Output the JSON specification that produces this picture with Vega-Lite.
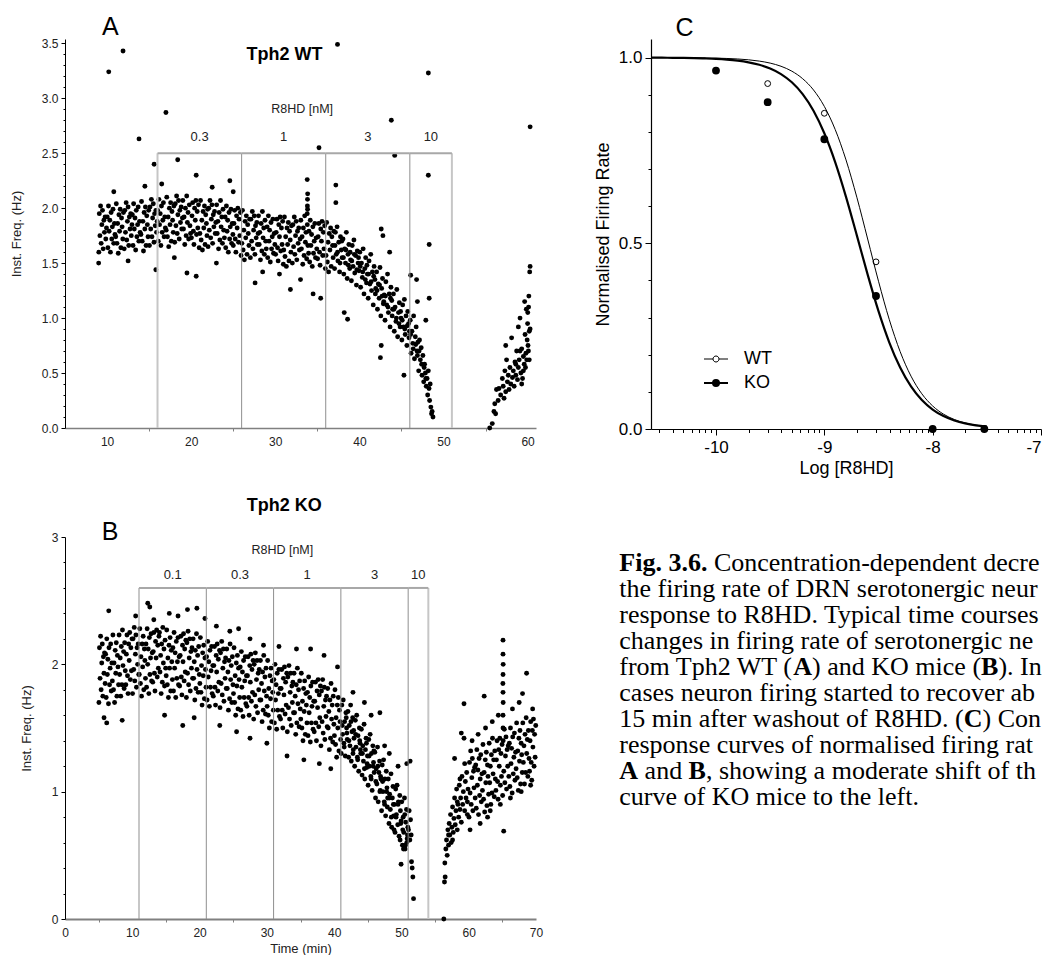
{
"$schema": "https://vega.github.io/schema/vega-lite/v6.json",
"background": "white",
"padding": {"left": 10, "top": 14, "right": 0, "bottom": 0},
"config": {"view": {"stroke": null}, "axis": {"grid": false, "labelFont": "Liberation Sans", "titleFont": "Liberation Sans", "labelOverlap": false, "labelFlush": false}, "text": {"font": "Liberation Sans"}},
"datasets": {
"segA": [{"t0":16,"t1":26,"mid":21,"conc":"0.3"},{"t0":26,"t1":36,"mid":31,"conc":"1"},{"t0":36,"t1":46,"mid":41,"conc":"3"},{"t0":46,"t1":51,"mid":48.5,"conc":"10"}],
"segB": [{"t0":11,"t1":21,"mid":16,"conc":"0.1"},{"t0":21,"t1":31,"mid":26,"conc":"0.3"},{"t0":31,"t1":41,"mid":36,"conc":"1"},{"t0":41,"t1":51,"mid":46,"conc":"3"},{"t0":51,"t1":54,"mid":52.5,"conc":"10"}],
"conc": [{"g":"WT","x":-9.523,"y":0.93},{"g":"WT","x":-9,"y":0.85},{"g":"WT","x":-8.523,"y":0.45},{"g":"WT","x":-8,"y":0},{"g":"WT","x":-7.523,"y":0},{"g":"KO","x":-10,"y":0.965},{"g":"KO","x":-9.523,"y":0.88},{"g":"KO","x":-9,"y":0.78},{"g":"KO","x":-8.523,"y":0.358},{"g":"KO","x":-8,"y":0},{"g":"KO","x":-7.523,"y":0}],
"fit": [
{"g":"WT","x":-10.6,"y":0.9999},{"g":"WT","x":-10.5,"y":0.9998},{"g":"WT","x":-10.4,"y":0.9998},{"g":"WT","x":-10.3,"y":0.9996},{"g":"WT","x":-10.2,"y":0.9994},{"g":"WT","x":-10.1,"y":0.999},{"g":"WT","x":-10,"y":0.9985},{"g":"WT","x":-9.9,"y":0.9976},{"g":"WT","x":-9.8,"y":0.9962},{"g":"WT","x":-9.7,"y":0.994},{"g":"WT","x":-9.6,"y":0.9905},{"g":"WT","x":-9.5,"y":0.9851},{"g":"WT","x":-9.4,"y":0.9766},{"g":"WT","x":-9.3,"y":0.9634},{"g":"WT","x":-9.2,"y":0.9431},{"g":"WT","x":-9.1,"y":0.9128},{"g":"WT","x":-9,"y":0.8685},{"g":"WT","x":-8.9,"y":0.8065},{"g":"WT","x":-8.8,"y":0.7245},{"g":"WT","x":-8.7,"y":0.624},{"g":"WT","x":-8.6,"y":0.5115},{"g":"WT","x":-8.5,"y":0.3978},{"g":"WT","x":-8.4,"y":0.2942},{"g":"WT","x":-8.3,"y":0.2082},{"g":"WT","x":-8.2,"y":0.1423},{"g":"WT","x":-8.1,"y":0.0948},{"g":"WT","x":-8,"y":0.062},{"g":"WT","x":-7.9,"y":0.04},{"g":"WT","x":-7.8,"y":0.0256},{"g":"WT","x":-7.7,"y":0.0163},{"g":"WT","x":-7.6,"y":0.0104},{"g":"WT","x":-7.5,"y":0.0066},
{"g":"KO","x":-10.6,"y":0.9997},{"g":"KO","x":-10.5,"y":0.9996},{"g":"KO","x":-10.4,"y":0.9993},{"g":"KO","x":-10.3,"y":0.999},{"g":"KO","x":-10.2,"y":0.9985},{"g":"KO","x":-10.1,"y":0.9976},{"g":"KO","x":-10,"y":0.9964},{"g":"KO","x":-9.9,"y":0.9945},{"g":"KO","x":-9.8,"y":0.9916},{"g":"KO","x":-9.7,"y":0.9872},{"g":"KO","x":-9.6,"y":0.9805},{"g":"KO","x":-9.5,"y":0.9705},{"g":"KO","x":-9.4,"y":0.9555},{"g":"KO","x":-9.3,"y":0.9334},{"g":"KO","x":-9.2,"y":0.9016},{"g":"KO","x":-9.1,"y":0.8568},{"g":"KO","x":-9,"y":0.7962},{"g":"KO","x":-8.9,"y":0.7186},{"g":"KO","x":-8.8,"y":0.6251},{"g":"KO","x":-8.7,"y":0.5213},{"g":"KO","x":-8.6,"y":0.4156},{"g":"KO","x":-8.5,"y":0.3172},{"g":"KO","x":-8.4,"y":0.2328},{"g":"KO","x":-8.3,"y":0.1654},{"g":"KO","x":-8.2,"y":0.1146},{"g":"KO","x":-8.1,"y":0.0779},{"g":"KO","x":-8,"y":0.0523},{"g":"KO","x":-7.9,"y":0.0348},{"g":"KO","x":-7.8,"y":0.023},{"g":"KO","x":-7.7,"y":0.0151},{"g":"KO","x":-7.6,"y":0.0099},{"g":"KO","x":-7.5,"y":0.0065}],
"wt": [
{"t":9.02,"f":1.6},{"t":9.08,"f":1.95},{"t":9.15,"f":1.75},{"t":9.23,"f":2.02},{"t":9.3,"f":1.68},{"t":9.38,"f":1.85},{"t":9.46,"f":1.98},{"t":9.54,"f":1.63},{"t":9.62,"f":1.89},{"t":9.69,"f":1.78},{"t":9.77,"f":1.92},{"t":9.85,"f":1.72},{"t":9.93,"f":1.82},
{"t":10.02,"f":1.92},{"t":10.1,"f":1.64},{"t":10.17,"f":2.02},{"t":10.25,"f":1.79},{"t":10.33,"f":1.89},{"t":10.4,"f":1.6},{"t":10.48,"f":1.96},{"t":10.56,"f":1.72},{"t":10.63,"f":1.83},{"t":10.71,"f":1.99},{"t":10.79,"f":1.68},{"t":10.87,"f":1.86},{"t":10.94,"f":1.76},
{"t":11.03,"f":1.74},{"t":11.1,"f":2.04},{"t":11.18,"f":1.68},{"t":11.26,"f":1.86},{"t":11.33,"f":1.59},{"t":11.41,"f":1.94},{"t":11.49,"f":1.79},{"t":11.56,"f":1.99},{"t":11.64,"f":1.64},{"t":11.72,"f":1.91},{"t":11.79,"f":1.83},{"t":11.87,"f":1.72},{"t":11.95,"f":1.96},
{"t":12.04,"f":1.63},{"t":12.11,"f":1.98},{"t":12.19,"f":1.78},{"t":12.27,"f":2.05},{"t":12.34,"f":1.71},{"t":12.42,"f":1.88},{"t":12.5,"f":2.01},{"t":12.58,"f":1.66},{"t":12.65,"f":1.92},{"t":12.73,"f":1.81},{"t":12.81,"f":1.95},{"t":12.88,"f":1.75},{"t":12.96,"f":1.85},
{"t":13.01,"f":1.94},{"t":13.09,"f":1.66},{"t":13.16,"f":2.04},{"t":13.24,"f":1.81},{"t":13.32,"f":1.91},{"t":13.4,"f":1.62},{"t":13.47,"f":1.98},{"t":13.55,"f":1.74},{"t":13.63,"f":1.85},{"t":13.7,"f":2.01},{"t":13.78,"f":1.7},{"t":13.86,"f":1.88},{"t":13.93,"f":1.78},
{"t":14.03,"f":1.76},{"t":14.1,"f":2.06},{"t":14.18,"f":1.7},{"t":14.26,"f":1.88},{"t":14.33,"f":1.61},{"t":14.41,"f":1.96},{"t":14.49,"f":1.81},{"t":14.56,"f":2.01},{"t":14.64,"f":1.66},{"t":14.72,"f":1.93},{"t":14.79,"f":1.85},{"t":14.87,"f":1.74},{"t":14.95,"f":1.98},
{"t":15.04,"f":1.66},{"t":15.11,"f":2.01},{"t":15.19,"f":1.81},{"t":15.27,"f":2.08},{"t":15.34,"f":1.74},{"t":15.42,"f":1.91},{"t":15.5,"f":2.04},{"t":15.58,"f":1.69},{"t":15.65,"f":1.95},{"t":15.73,"f":1.84},{"t":15.81,"f":1.98},{"t":15.88,"f":1.78},{"t":15.96,"f":1.88},
{"t":16.01,"f":1.98},{"t":16.09,"f":1.7},{"t":16.16,"f":2.08},{"t":16.24,"f":1.85},{"t":16.32,"f":1.95},{"t":16.4,"f":1.66},{"t":16.47,"f":2.02},{"t":16.55,"f":1.78},{"t":16.63,"f":1.89},{"t":16.7,"f":2.05},{"t":16.78,"f":1.74},{"t":16.86,"f":1.92},{"t":16.93,"f":1.82},
{"t":17.03,"f":1.8},{"t":17.1,"f":2.1},{"t":17.18,"f":1.74},{"t":17.26,"f":1.92},{"t":17.33,"f":1.65},{"t":17.41,"f":2.0},{"t":17.49,"f":1.85},{"t":17.56,"f":2.05},{"t":17.64,"f":1.7},{"t":17.72,"f":1.97},{"t":17.79,"f":1.89},{"t":17.87,"f":1.78},{"t":17.95,"f":2.02},
{"t":18.04,"f":1.69},{"t":18.11,"f":2.04},{"t":18.19,"f":1.84},{"t":18.27,"f":2.11},{"t":18.34,"f":1.77},{"t":18.42,"f":1.94},{"t":18.5,"f":2.07},{"t":18.58,"f":1.72},{"t":18.65,"f":1.98},{"t":18.73,"f":1.87},{"t":18.81,"f":2.01},{"t":18.88,"f":1.81},{"t":18.96,"f":1.91},
{"t":19.01,"f":2.07},{"t":19.09,"f":1.81},{"t":19.16,"f":1.92},{"t":19.24,"f":1.67},{"t":19.32,"f":2.0},{"t":19.4,"f":1.75},{"t":19.47,"f":2.11},{"t":19.55,"f":1.87},{"t":19.63,"f":1.96},{"t":19.7,"f":1.72},{"t":19.78,"f":2.03},{"t":19.86,"f":1.84},{"t":19.93,"f":1.77},
{"t":20.03,"f":1.73},{"t":20.1,"f":1.93},{"t":20.18,"f":2.05},{"t":20.26,"f":1.79},{"t":20.33,"f":1.67},{"t":20.41,"f":2.0},{"t":20.49,"f":1.89},{"t":20.56,"f":2.07},{"t":20.64,"f":1.76},{"t":20.72,"f":1.97},{"t":20.79,"f":1.82},{"t":20.87,"f":2.03},{"t":20.95,"f":1.64},
{"t":21.04,"f":1.77},{"t":21.11,"f":2.07},{"t":21.19,"f":1.71},{"t":21.27,"f":1.89},{"t":21.34,"f":1.62},{"t":21.42,"f":1.97},{"t":21.5,"f":1.82},{"t":21.58,"f":2.02},{"t":21.65,"f":1.67},{"t":21.73,"f":1.94},{"t":21.81,"f":1.86},{"t":21.88,"f":1.75},{"t":21.96,"f":1.99},
{"t":22.01,"f":1.65},{"t":22.09,"f":2.0},{"t":22.16,"f":1.8},{"t":22.24,"f":2.07},{"t":22.32,"f":1.73},{"t":22.4,"f":1.9},{"t":22.47,"f":2.03},{"t":22.55,"f":1.68},{"t":22.63,"f":1.94},{"t":22.7,"f":1.83},{"t":22.78,"f":1.97},{"t":22.86,"f":1.77},{"t":22.93,"f":1.87},
{"t":23.03,"f":2.03},{"t":23.1,"f":1.77},{"t":23.18,"f":1.88},{"t":23.26,"f":1.63},{"t":23.33,"f":1.96},{"t":23.41,"f":1.71},{"t":23.49,"f":2.07},{"t":23.56,"f":1.83},{"t":23.64,"f":1.92},{"t":23.72,"f":1.68},{"t":23.79,"f":1.99},{"t":23.87,"f":1.8},{"t":23.95,"f":1.73},
{"t":24.04,"f":1.92},{"t":24.11,"f":1.64},{"t":24.19,"f":2.02},{"t":24.27,"f":1.79},{"t":24.34,"f":1.89},{"t":24.42,"f":1.6},{"t":24.5,"f":1.96},{"t":24.58,"f":1.72},{"t":24.65,"f":1.83},{"t":24.73,"f":1.99},{"t":24.81,"f":1.68},{"t":24.88,"f":1.86},{"t":24.96,"f":1.76},
{"t":25.01,"f":1.66},{"t":25.09,"f":1.86},{"t":25.16,"f":1.98},{"t":25.24,"f":1.72},{"t":25.32,"f":1.6},{"t":25.4,"f":1.93},{"t":25.47,"f":1.82},{"t":25.55,"f":2.0},{"t":25.63,"f":1.69},{"t":25.7,"f":1.9},{"t":25.78,"f":1.75},{"t":25.86,"f":1.96},{"t":25.93,"f":1.57},
{"t":26.03,"f":1.68},{"t":26.1,"f":1.98},{"t":26.18,"f":1.62},{"t":26.26,"f":1.8},{"t":26.33,"f":1.53},{"t":26.41,"f":1.88},{"t":26.49,"f":1.73},{"t":26.56,"f":1.93},{"t":26.64,"f":1.58},{"t":26.72,"f":1.85},{"t":26.79,"f":1.77},{"t":26.87,"f":1.66},{"t":26.95,"f":1.9},
{"t":27.04,"f":1.55},{"t":27.11,"f":1.9},{"t":27.19,"f":1.7},{"t":27.27,"f":1.97},{"t":27.34,"f":1.63},{"t":27.42,"f":1.8},{"t":27.5,"f":1.93},{"t":27.58,"f":1.58},{"t":27.65,"f":1.84},{"t":27.73,"f":1.73},{"t":27.81,"f":1.87},{"t":27.88,"f":1.67},{"t":27.96,"f":1.77},
{"t":28.01,"f":1.93},{"t":28.09,"f":1.67},{"t":28.16,"f":1.78},{"t":28.24,"f":1.53},{"t":28.32,"f":1.86},{"t":28.4,"f":1.61},{"t":28.47,"f":1.97},{"t":28.55,"f":1.73},{"t":28.63,"f":1.82},{"t":28.7,"f":1.58},{"t":28.78,"f":1.89},{"t":28.86,"f":1.7},{"t":28.93,"f":1.63},
{"t":29.03,"f":1.83},{"t":29.1,"f":1.55},{"t":29.18,"f":1.93},{"t":29.26,"f":1.7},{"t":29.33,"f":1.8},{"t":29.41,"f":1.51},{"t":29.49,"f":1.87},{"t":29.56,"f":1.63},{"t":29.64,"f":1.74},{"t":29.72,"f":1.9},{"t":29.79,"f":1.59},{"t":29.87,"f":1.77},{"t":29.95,"f":1.67},
{"t":30.04,"f":1.58},{"t":30.11,"f":1.78},{"t":30.19,"f":1.9},{"t":30.27,"f":1.64},{"t":30.34,"f":1.52},{"t":30.42,"f":1.85},{"t":30.5,"f":1.74},{"t":30.58,"f":1.92},{"t":30.65,"f":1.61},{"t":30.73,"f":1.82},{"t":30.81,"f":1.67},{"t":30.88,"f":1.88},{"t":30.96,"f":1.49},
{"t":31.01,"f":1.62},{"t":31.09,"f":1.92},{"t":31.16,"f":1.56},{"t":31.24,"f":1.74},{"t":31.32,"f":1.47},{"t":31.4,"f":1.82},{"t":31.47,"f":1.67},{"t":31.55,"f":1.87},{"t":31.63,"f":1.52},{"t":31.7,"f":1.79},{"t":31.78,"f":1.71},{"t":31.86,"f":1.6},{"t":31.93,"f":1.84},
{"t":32.03,"f":1.5},{"t":32.1,"f":1.85},{"t":32.18,"f":1.65},{"t":32.26,"f":1.92},{"t":32.33,"f":1.58},{"t":32.41,"f":1.75},{"t":32.49,"f":1.88},{"t":32.56,"f":1.53},{"t":32.64,"f":1.79},{"t":32.72,"f":1.68},{"t":32.79,"f":1.82},{"t":32.87,"f":1.62},{"t":32.95,"f":1.72},
{"t":33.04,"f":1.89},{"t":33.11,"f":1.63},{"t":33.19,"f":1.74},{"t":33.27,"f":1.49},{"t":33.34,"f":1.82},{"t":33.42,"f":1.57},{"t":33.5,"f":1.93},{"t":33.58,"f":1.69},{"t":33.65,"f":1.78},{"t":33.73,"f":1.54},{"t":33.81,"f":1.85},{"t":33.88,"f":1.66},{"t":33.96,"f":1.59},
{"t":33.8,"f":1.95},{"t":33.82,"f":2.02},{"t":33.83,"f":2.08},{"t":33.85,"f":2.13},{"t":33.84,"f":1.99},
{"t":34.01,"f":1.79},{"t":34.09,"f":1.51},{"t":34.16,"f":1.89},{"t":34.24,"f":1.66},{"t":34.32,"f":1.76},{"t":34.4,"f":1.47},{"t":34.47,"f":1.83},{"t":34.55,"f":1.59},{"t":34.63,"f":1.7},{"t":34.7,"f":1.86},{"t":34.78,"f":1.55},{"t":34.86,"f":1.73},{"t":34.93,"f":1.63},
{"t":35.03,"f":1.54},{"t":35.1,"f":1.74},{"t":35.18,"f":1.86},{"t":35.26,"f":1.6},{"t":35.33,"f":1.48},{"t":35.41,"f":1.81},{"t":35.49,"f":1.7},{"t":35.56,"f":1.88},{"t":35.64,"f":1.57},{"t":35.72,"f":1.78},{"t":35.79,"f":1.63},{"t":35.87,"f":1.84},{"t":35.95,"f":1.45},
{"t":36.04,"f":1.57},{"t":36.11,"f":1.87},{"t":36.19,"f":1.51},{"t":36.27,"f":1.69},{"t":36.34,"f":1.42},{"t":36.42,"f":1.77},{"t":36.5,"f":1.62},{"t":36.58,"f":1.82},{"t":36.65,"f":1.47},{"t":36.73,"f":1.74},{"t":36.81,"f":1.66},{"t":36.88,"f":1.55},{"t":36.96,"f":1.79},
{"t":37.05,"f":1.45},{"t":37.15,"f":1.78},{"t":37.25,"f":1.58},{"t":37.35,"f":1.83},{"t":37.45,"f":1.52},{"t":37.55,"f":1.69},{"t":37.65,"f":1.42},{"t":37.75,"f":1.74},{"t":37.85,"f":1.62},{"t":37.95,"f":1.55},
{"t":38.05,"f":1.72},{"t":38.15,"f":1.4},{"t":38.25,"f":1.63},{"t":38.35,"f":1.5},{"t":38.45,"f":1.78},{"t":38.55,"f":1.36},{"t":38.65,"f":1.58},{"t":38.75,"f":1.67},{"t":38.85,"f":1.45},{"t":38.95,"f":1.53},
{"t":39.05,"f":1.34},{"t":39.15,"f":1.66},{"t":39.25,"f":1.47},{"t":39.35,"f":1.71},{"t":39.45,"f":1.41},{"t":39.55,"f":1.57},{"t":39.65,"f":1.3},{"t":39.75,"f":1.61},{"t":39.85,"f":1.5},{"t":39.95,"f":1.43},
{"t":40.05,"f":1.6},{"t":40.15,"f":1.28},{"t":40.25,"f":1.5},{"t":40.35,"f":1.37},{"t":40.45,"f":1.63},{"t":40.55,"f":1.22},{"t":40.65,"f":1.45},{"t":40.75,"f":1.55},{"t":40.85,"f":1.32},{"t":40.95,"f":1.4},
{"t":41.05,"f":1.18},{"t":41.15,"f":1.52},{"t":41.25,"f":1.31},{"t":41.35,"f":1.58},{"t":41.45,"f":1.25},{"t":41.55,"f":1.42},{"t":41.65,"f":1.12},{"t":41.75,"f":1.47},{"t":41.85,"f":1.35},{"t":41.95,"f":1.27},
{"t":42.05,"f":1.42},{"t":42.15,"f":1.08},{"t":42.25,"f":1.31},{"t":42.35,"f":1.18},{"t":42.45,"f":1.46},{"t":42.55,"f":1.02},{"t":42.65,"f":1.27},{"t":42.75,"f":1.36},{"t":42.85,"f":1.13},{"t":42.95,"f":1.21},
{"t":43.05,"f":0.98},{"t":43.15,"f":1.33},{"t":43.25,"f":1.12},{"t":43.35,"f":1.4},{"t":43.45,"f":1.05},{"t":43.55,"f":1.22},{"t":43.65,"f":0.92},{"t":43.75,"f":1.28},{"t":43.85,"f":1.16},{"t":43.95,"f":1.08},
{"t":44.05,"f":1.22},{"t":44.15,"f":0.88},{"t":44.25,"f":1.1},{"t":44.35,"f":0.97},{"t":44.45,"f":1.26},{"t":44.55,"f":0.83},{"t":44.65,"f":1.05},{"t":44.75,"f":1.14},{"t":44.85,"f":0.92},{"t":44.95,"f":1.0},
{"t":45.05,"f":0.8},{"t":45.15,"f":1.12},{"t":45.25,"f":0.92},{"t":45.35,"f":1.17},{"t":45.45,"f":0.85},{"t":45.55,"f":1.02},{"t":45.65,"f":0.75},{"t":45.75,"f":1.06},{"t":45.85,"f":0.95},{"t":45.95,"f":0.88},
{"t":46.05,"f":0.98},{"t":46.15,"f":0.68},{"t":46.25,"f":0.88},{"t":46.35,"f":0.77},{"t":46.45,"f":1.02},{"t":46.55,"f":0.63},{"t":46.65,"f":0.83},{"t":46.75,"f":0.92},{"t":46.85,"f":0.7},{"t":46.95,"f":0.78},
{"t":47.05,"f":0.52},{"t":47.15,"f":0.8},{"t":47.25,"f":0.62},{"t":47.35,"f":0.73},{"t":47.45,"f":0.48},{"t":47.55,"f":0.66},{"t":47.65,"f":0.42},{"t":47.75,"f":0.58},{"t":47.85,"f":0.5},{"t":47.95,"f":0.38},
{"t":48.05,"f":0.45},{"t":48.12,"f":0.3},{"t":48.2,"f":0.52},{"t":48.28,"f":0.36},{"t":48.35,"f":0.25},{"t":48.42,"f":0.4},{"t":48.5,"f":0.19},{"t":48.58,"f":0.13},{"t":48.65,"f":0.15},{"t":48.75,"f":0.1},
{"t":37.1,"f":1.66},{"t":37.4,"f":1.6},{"t":37.7,"f":1.5},{"t":37.9,"f":1.7},{"t":38.1,"f":1.55},{"t":38.4,"f":1.62},{"t":38.7,"f":1.48},{"t":38.9,"f":1.6},{"t":39.1,"f":1.52},{"t":39.4,"f":1.58},{"t":39.7,"f":1.44},{"t":39.9,"f":1.55},{"t":40.1,"f":1.47},{"t":40.4,"f":1.42},{"t":40.7,"f":1.35},{"t":40.9,"f":1.48},{"t":41.1,"f":1.4},{"t":41.4,"f":1.33},{"t":41.7,"f":1.38},{"t":41.9,"f":1.22},{"t":42.1,"f":1.25},{"t":42.4,"f":1.3},{"t":42.7,"f":1.2},{"t":42.9,"f":1.15},{"t":43.1,"f":1.2},{"t":43.4,"f":1.1},{"t":43.7,"f":1.18},{"t":43.9,"f":1.02},{"t":44.1,"f":1.08},{"t":44.4,"f":1.0},{"t":44.7,"f":0.95},{"t":44.9,"f":1.06},{"t":45.1,"f":0.98},{"t":45.4,"f":0.9},{"t":45.7,"f":0.93},{"t":45.9,"f":0.82},{"t":46.1,"f":0.85},{"t":46.4,"f":0.72},{"t":46.7,"f":0.76},{"t":46.9,"f":0.66},{"t":47.1,"f":0.7},{"t":47.4,"f":0.58},{"t":47.7,"f":0.55},{"t":47.9,"f":0.45},
{"t":38.2,"f":1.05},{"t":38.6,"f":0.99},{"t":42.5,"f":0.64},{"t":42.6,"f":0.75},{"t":45.3,"f":0.48},{"t":43.6,"f":1.6},{"t":42.8,"f":1.75},{"t":42.6,"f":1.81},{"t":47.9,"f":0.98},{"t":46.9,"f":1.15},{"t":46.8,"f":1.35},{"t":46.1,"f":1.39},
{"t":55.5,"f":0},{"t":55.8,"f":0.04},{"t":56.0,"f":0.15},{"t":56.1,"f":0.22},{"t":56.2,"f":0.13},{"t":56.3,"f":0.35},{"t":56.5,"f":0.25},{"t":56.6,"f":0.36},{"t":56.8,"f":0.3},{"t":57.0,"f":0.45},{"t":57.1,"f":0.38},{"t":57.2,"f":0.27},{"t":57.3,"f":0.52},{"t":57.4,"f":0.33},{"t":57.5,"f":0.62},{"t":57.6,"f":0.42},{"t":57.7,"f":0.48},{"t":57.8,"f":0.35},{"t":57.9,"f":0.55},{"t":58.0,"f":0.4},{"t":58.1,"f":0.82},{"t":58.2,"f":0.46},{"t":58.3,"f":0.52},{"t":58.4,"f":0.38},{"t":58.5,"f":0.6},{"t":58.6,"f":0.48},{"t":58.7,"f":0.7},{"t":58.8,"f":0.44},{"t":58.9,"f":0.55},{"t":59.0,"f":0.62},{"t":59.1,"f":1.0},{"t":59.2,"f":0.5},{"t":59.3,"f":0.72},{"t":59.4,"f":0.45},{"t":59.5,"f":0.65},{"t":59.6,"f":0.58},{"t":59.7,"f":0.85},{"t":59.8,"f":0.68},{"t":59.9,"f":0.62},{"t":60.0,"f":0.95},{"t":60.02,"f":1.05},{"t":60.05,"f":0.75},{"t":60.1,"f":0.7},{"t":60.15,"f":1.2},{"t":60.2,"f":0.88},{"t":60.25,"f":1.42},{"t":60.3,"f":1.47},{"t":59.95,"f":0.8},{"t":59.85,"f":1.08},{"t":59.75,"f":0.55},{"t":59.65,"f":1.15},{"t":60.12,"f":1.1},{"t":59.3,"f":0.4},{"t":58.9,"f":0.92},{"t":57.4,"f":0.75},{"t":58.6,"f":0.58},{"t":59.1,"f":0.7},{"t":59.5,"f":0.52},{"t":60.2,"f":0.62},{"t":60.3,"f":0.9},
{"t":10.2,"f":3.24},{"t":11.9,"f":3.43},{"t":13.8,"f":2.63},{"t":15.6,"f":2.4},{"t":17.0,"f":2.87},{"t":18.4,"f":2.44},{"t":20.6,"f":2.3},{"t":24.6,"f":2.25},{"t":37.4,"f":3.49},{"t":35.2,"f":2.55},{"t":43.8,"f":2.8},{"t":44.2,"f":2.48},{"t":48.2,"f":3.23},{"t":48.2,"f":2.3},{"t":48.3,"f":1.67},{"t":48.3,"f":1.18},{"t":60.3,"f":2.74},{"t":33.8,"f":2.26},{"t":37.2,"f":2.21},{"t":37.2,"f":2.05},{"t":9.0,"f":1.5},{"t":15.8,"f":1.44},{"t":19.5,"f":1.41},{"t":20.6,"f":1.38},{"t":27.6,"f":1.32},{"t":31.8,"f":1.26},{"t":34.5,"f":1.22},{"t":35.4,"f":1.18},{"t":10.8,"f":2.15},{"t":14.5,"f":2.2},{"t":16.5,"f":2.22},{"t":22.5,"f":2.19},{"t":25.0,"f":2.15},{"t":12.5,"f":1.52},{"t":18.0,"f":1.55},{"t":23.0,"f":1.5},{"t":28.5,"f":1.42},{"t":30.5,"f":1.4},{"t":33.0,"f":1.35}],
"ko": [
{"t":5.04,"f":1.7},{"t":5.12,"f":2.13},{"t":5.21,"f":1.89},{"t":5.29,"f":2.22},{"t":5.37,"f":1.8},{"t":5.46,"f":2.01},{"t":5.54,"f":2.16},{"t":5.62,"f":1.75},{"t":5.71,"f":2.06},{"t":5.79,"f":1.93},{"t":5.87,"f":2.09},{"t":5.96,"f":1.85},
{"t":6.04,"f":2.08},{"t":6.12,"f":1.74},{"t":6.21,"f":2.2},{"t":6.29,"f":1.92},{"t":6.37,"f":2.04},{"t":6.46,"f":1.69},{"t":6.54,"f":2.13},{"t":6.62,"f":1.84},{"t":6.71,"f":1.97},{"t":6.79,"f":2.16},{"t":6.87,"f":1.79},{"t":6.96,"f":2.01},
{"t":7.04,"f":1.87},{"t":7.12,"f":2.23},{"t":7.21,"f":1.8},{"t":7.29,"f":2.01},{"t":7.37,"f":1.7},{"t":7.46,"f":2.11},{"t":7.54,"f":1.93},{"t":7.62,"f":2.17},{"t":7.71,"f":1.75},{"t":7.79,"f":2.07},{"t":7.87,"f":1.98},{"t":7.96,"f":1.84},
{"t":8.04,"f":2.23},{"t":8.12,"f":1.92},{"t":8.21,"f":2.05},{"t":8.29,"f":1.75},{"t":8.37,"f":2.14},{"t":8.46,"f":1.84},{"t":8.54,"f":2.27},{"t":8.62,"f":1.99},{"t":8.71,"f":2.1},{"t":8.79,"f":1.81},{"t":8.87,"f":2.17},{"t":8.96,"f":1.95},
{"t":9.04,"f":1.84},{"t":9.12,"f":2.08},{"t":9.21,"f":2.23},{"t":9.29,"f":1.91},{"t":9.37,"f":1.77},{"t":9.46,"f":2.16},{"t":9.54,"f":2.03},{"t":9.62,"f":2.25},{"t":9.71,"f":1.88},{"t":9.79,"f":2.13},{"t":9.87,"f":1.95},{"t":9.96,"f":2.2},
{"t":10.04,"f":1.77},{"t":10.12,"f":2.2},{"t":10.21,"f":1.96},{"t":10.29,"f":2.29},{"t":10.37,"f":1.87},{"t":10.46,"f":2.08},{"t":10.54,"f":2.23},{"t":10.62,"f":1.82},{"t":10.71,"f":2.13},{"t":10.79,"f":2.0},{"t":10.87,"f":2.16},{"t":10.96,"f":1.92},
{"t":11.04,"f":1.92},{"t":11.12,"f":2.28},{"t":11.21,"f":1.85},{"t":11.29,"f":2.06},{"t":11.37,"f":1.75},{"t":11.46,"f":2.16},{"t":11.54,"f":1.98},{"t":11.62,"f":2.22},{"t":11.71,"f":1.8},{"t":11.79,"f":2.12},{"t":11.87,"f":2.03},{"t":11.96,"f":1.89},
{"t":12.04,"f":2.16},{"t":12.12,"f":1.82},{"t":12.21,"f":2.28},{"t":12.29,"f":2.0},{"t":12.37,"f":2.12},{"t":12.46,"f":1.77},{"t":12.54,"f":2.21},{"t":12.62,"f":1.92},{"t":12.71,"f":2.05},{"t":12.79,"f":2.24},{"t":12.87,"f":1.87},{"t":12.96,"f":2.09},
{"t":13.04,"f":1.86},{"t":13.12,"f":2.1},{"t":13.21,"f":2.25},{"t":13.29,"f":1.93},{"t":13.37,"f":1.79},{"t":13.46,"f":2.18},{"t":13.54,"f":2.05},{"t":13.62,"f":2.27},{"t":13.71,"f":1.9},{"t":13.79,"f":2.15},{"t":13.87,"f":1.97},{"t":13.96,"f":2.22},
{"t":14.04,"f":2.25},{"t":14.12,"f":1.94},{"t":14.21,"f":2.07},{"t":14.29,"f":1.77},{"t":14.37,"f":2.16},{"t":14.46,"f":1.86},{"t":14.54,"f":2.29},{"t":14.62,"f":2.01},{"t":14.71,"f":2.12},{"t":14.79,"f":1.83},{"t":14.87,"f":2.19},{"t":14.96,"f":1.97},
{"t":15.04,"f":1.91},{"t":15.12,"f":2.27},{"t":15.21,"f":1.84},{"t":15.29,"f":2.05},{"t":15.37,"f":1.74},{"t":15.46,"f":2.15},{"t":15.54,"f":1.97},{"t":15.62,"f":2.21},{"t":15.71,"f":1.79},{"t":15.79,"f":2.11},{"t":15.87,"f":2.02},{"t":15.96,"f":1.88},
{"t":16.04,"f":2.13},{"t":16.12,"f":1.79},{"t":16.21,"f":2.25},{"t":16.29,"f":1.97},{"t":16.37,"f":2.09},{"t":16.46,"f":1.74},{"t":16.54,"f":2.18},{"t":16.62,"f":1.89},{"t":16.71,"f":2.02},{"t":16.79,"f":2.21},{"t":16.87,"f":1.84},{"t":16.96,"f":2.06},
{"t":17.04,"f":1.83},{"t":17.12,"f":2.07},{"t":17.21,"f":2.22},{"t":17.29,"f":1.9},{"t":17.37,"f":1.76},{"t":17.46,"f":2.15},{"t":17.54,"f":2.02},{"t":17.62,"f":2.24},{"t":17.71,"f":1.87},{"t":17.79,"f":2.12},{"t":17.87,"f":1.94},{"t":17.96,"f":2.19},
{"t":18.04,"f":1.74},{"t":18.12,"f":2.17},{"t":18.21,"f":1.93},{"t":18.29,"f":2.26},{"t":18.37,"f":1.84},{"t":18.46,"f":2.05},{"t":18.54,"f":2.2},{"t":18.62,"f":1.79},{"t":18.71,"f":2.1},{"t":18.79,"f":1.97},{"t":18.87,"f":2.13},{"t":18.96,"f":1.89},
{"t":19.04,"f":2.2},{"t":19.12,"f":1.89},{"t":19.21,"f":2.02},{"t":19.29,"f":1.72},{"t":19.37,"f":2.11},{"t":19.46,"f":1.81},{"t":19.54,"f":2.24},{"t":19.62,"f":1.96},{"t":19.71,"f":2.07},{"t":19.79,"f":1.78},{"t":19.87,"f":2.14},{"t":19.96,"f":1.92},
{"t":20.04,"f":1.85},{"t":20.12,"f":2.21},{"t":20.21,"f":1.78},{"t":20.29,"f":1.99},{"t":20.37,"f":1.68},{"t":20.46,"f":2.09},{"t":20.54,"f":1.91},{"t":20.62,"f":2.15},{"t":20.71,"f":1.73},{"t":20.79,"f":2.05},{"t":20.87,"f":1.96},{"t":20.96,"f":1.82},
{"t":21.04,"f":2.06},{"t":21.12,"f":1.72},{"t":21.21,"f":2.18},{"t":21.29,"f":1.9},{"t":21.37,"f":2.02},{"t":21.46,"f":1.67},{"t":21.54,"f":2.11},{"t":21.62,"f":1.82},{"t":21.71,"f":1.95},{"t":21.79,"f":2.14},{"t":21.87,"f":1.77},{"t":21.96,"f":1.99},
{"t":22.04,"f":1.75},{"t":22.12,"f":1.99},{"t":22.21,"f":2.14},{"t":22.29,"f":1.82},{"t":22.37,"f":1.68},{"t":22.46,"f":2.07},{"t":22.54,"f":1.94},{"t":22.62,"f":2.16},{"t":22.71,"f":1.79},{"t":22.79,"f":2.04},{"t":22.87,"f":1.86},{"t":22.96,"f":2.11},
{"t":23.04,"f":1.66},{"t":23.12,"f":2.09},{"t":23.21,"f":1.85},{"t":23.29,"f":2.18},{"t":23.37,"f":1.76},{"t":23.46,"f":1.97},{"t":23.54,"f":2.12},{"t":23.62,"f":1.71},{"t":23.71,"f":2.02},{"t":23.79,"f":1.89},{"t":23.87,"f":2.05},{"t":23.96,"f":1.81},
{"t":24.04,"f":2.12},{"t":24.12,"f":1.81},{"t":24.21,"f":1.94},{"t":24.29,"f":1.64},{"t":24.37,"f":2.03},{"t":24.46,"f":1.73},{"t":24.54,"f":2.16},{"t":24.62,"f":1.88},{"t":24.71,"f":1.99},{"t":24.79,"f":1.7},{"t":24.87,"f":2.06},{"t":24.96,"f":1.84},
{"t":25.04,"f":1.77},{"t":25.12,"f":2.13},{"t":25.21,"f":1.7},{"t":25.29,"f":1.91},{"t":25.37,"f":1.6},{"t":25.46,"f":2.01},{"t":25.54,"f":1.83},{"t":25.62,"f":2.07},{"t":25.71,"f":1.65},{"t":25.79,"f":1.97},{"t":25.87,"f":1.88},{"t":25.96,"f":1.74},
{"t":26.04,"f":1.98},{"t":26.12,"f":1.64},{"t":26.21,"f":2.1},{"t":26.29,"f":1.82},{"t":26.37,"f":1.94},{"t":26.46,"f":1.59},{"t":26.54,"f":2.03},{"t":26.62,"f":1.74},{"t":26.71,"f":1.87},{"t":26.79,"f":2.06},{"t":26.87,"f":1.69},{"t":26.96,"f":1.91},
{"t":27.04,"f":1.67},{"t":27.12,"f":1.91},{"t":27.21,"f":2.06},{"t":27.29,"f":1.74},{"t":27.37,"f":1.6},{"t":27.46,"f":1.99},{"t":27.54,"f":1.86},{"t":27.62,"f":2.08},{"t":27.71,"f":1.71},{"t":27.79,"f":1.96},{"t":27.87,"f":1.78},{"t":27.96,"f":2.03},
{"t":28.04,"f":1.57},{"t":28.12,"f":2.0},{"t":28.21,"f":1.76},{"t":28.29,"f":2.09},{"t":28.37,"f":1.67},{"t":28.46,"f":1.88},{"t":28.54,"f":2.03},{"t":28.62,"f":1.62},{"t":28.71,"f":1.93},{"t":28.79,"f":1.8},{"t":28.87,"f":1.96},{"t":28.96,"f":1.72},
{"t":29.04,"f":2.03},{"t":29.12,"f":1.72},{"t":29.21,"f":1.85},{"t":29.29,"f":1.55},{"t":29.37,"f":1.94},{"t":29.46,"f":1.64},{"t":29.54,"f":2.07},{"t":29.62,"f":1.79},{"t":29.71,"f":1.9},{"t":29.79,"f":1.61},{"t":29.87,"f":1.97},{"t":29.96,"f":1.75},
{"t":30.04,"f":1.67},{"t":30.12,"f":2.03},{"t":30.21,"f":1.6},{"t":30.29,"f":1.81},{"t":30.37,"f":1.5},{"t":30.46,"f":1.91},{"t":30.54,"f":1.73},{"t":30.62,"f":1.97},{"t":30.71,"f":1.55},{"t":30.79,"f":1.87},{"t":30.87,"f":1.78},{"t":30.96,"f":1.64},
{"t":31.04,"f":1.88},{"t":31.12,"f":1.54},{"t":31.21,"f":2.0},{"t":31.29,"f":1.72},{"t":31.37,"f":1.84},{"t":31.46,"f":1.49},{"t":31.54,"f":1.93},{"t":31.62,"f":1.64},{"t":31.71,"f":1.77},{"t":31.79,"f":1.96},{"t":31.87,"f":1.59},{"t":31.96,"f":1.81},
{"t":32.04,"f":1.57},{"t":32.12,"f":1.81},{"t":32.21,"f":1.96},{"t":32.29,"f":1.64},{"t":32.37,"f":1.5},{"t":32.46,"f":1.89},{"t":32.54,"f":1.76},{"t":32.62,"f":1.98},{"t":32.71,"f":1.61},{"t":32.79,"f":1.86},{"t":32.87,"f":1.68},{"t":32.96,"f":1.93},
{"t":33.04,"f":1.47},{"t":33.12,"f":1.9},{"t":33.21,"f":1.66},{"t":33.29,"f":1.99},{"t":33.37,"f":1.57},{"t":33.46,"f":1.78},{"t":33.54,"f":1.93},{"t":33.62,"f":1.52},{"t":33.71,"f":1.83},{"t":33.79,"f":1.7},{"t":33.87,"f":1.86},{"t":33.96,"f":1.62},
{"t":34.04,"f":1.93},{"t":34.12,"f":1.62},{"t":34.21,"f":1.75},{"t":34.29,"f":1.45},{"t":34.37,"f":1.84},{"t":34.46,"f":1.54},{"t":34.54,"f":1.97},{"t":34.62,"f":1.69},{"t":34.71,"f":1.8},{"t":34.79,"f":1.51},{"t":34.87,"f":1.87},{"t":34.96,"f":1.65},
{"t":35.04,"f":1.57},{"t":35.12,"f":1.93},{"t":35.21,"f":1.5},{"t":35.29,"f":1.71},{"t":35.37,"f":1.4},{"t":35.46,"f":1.81},{"t":35.54,"f":1.63},{"t":35.62,"f":1.87},{"t":35.71,"f":1.45},{"t":35.79,"f":1.77},{"t":35.87,"f":1.68},{"t":35.96,"f":1.54},
{"t":36.04,"f":1.78},{"t":36.12,"f":1.44},{"t":36.21,"f":1.9},{"t":36.29,"f":1.62},{"t":36.37,"f":1.74},{"t":36.46,"f":1.39},{"t":36.54,"f":1.83},{"t":36.62,"f":1.54},{"t":36.71,"f":1.67},{"t":36.79,"f":1.86},{"t":36.87,"f":1.49},{"t":36.96,"f":1.71},
{"t":37.04,"f":1.47},{"t":37.12,"f":1.71},{"t":37.21,"f":1.86},{"t":37.29,"f":1.54},{"t":37.37,"f":1.4},{"t":37.46,"f":1.79},{"t":37.54,"f":1.66},{"t":37.62,"f":1.88},{"t":37.71,"f":1.51},{"t":37.79,"f":1.76},{"t":37.87,"f":1.58},{"t":37.96,"f":1.83},
{"t":38.04,"f":1.36},{"t":38.12,"f":1.79},{"t":38.21,"f":1.55},{"t":38.29,"f":1.88},{"t":38.37,"f":1.46},{"t":38.46,"f":1.67},{"t":38.54,"f":1.82},{"t":38.62,"f":1.41},{"t":38.71,"f":1.72},{"t":38.79,"f":1.59},{"t":38.87,"f":1.75},{"t":38.96,"f":1.51},
{"t":39.04,"f":1.81},{"t":39.12,"f":1.5},{"t":39.21,"f":1.63},{"t":39.29,"f":1.33},{"t":39.37,"f":1.72},{"t":39.46,"f":1.42},{"t":39.54,"f":1.85},{"t":39.62,"f":1.57},{"t":39.71,"f":1.68},{"t":39.79,"f":1.39},{"t":39.87,"f":1.75},{"t":39.96,"f":1.53},
{"t":40.04,"f":1.44},{"t":40.12,"f":1.8},{"t":40.21,"f":1.37},{"t":40.29,"f":1.58},{"t":40.37,"f":1.27},{"t":40.46,"f":1.68},{"t":40.54,"f":1.5},{"t":40.62,"f":1.74},{"t":40.71,"f":1.32},{"t":40.79,"f":1.64},{"t":40.87,"f":1.55},{"t":40.96,"f":1.41},
{"t":41.05,"f":1.3},{"t":41.15,"f":1.68},{"t":41.25,"f":1.45},{"t":41.35,"f":1.72},{"t":41.45,"f":1.38},{"t":41.55,"f":1.55},{"t":41.65,"f":1.28},{"t":41.75,"f":1.62},{"t":41.85,"f":1.5},{"t":41.95,"f":1.41},
{"t":42.05,"f":1.63},{"t":42.15,"f":1.27},{"t":42.25,"f":1.52},{"t":42.35,"f":1.36},{"t":42.45,"f":1.68},{"t":42.55,"f":1.24},{"t":42.65,"f":1.47},{"t":42.75,"f":1.58},{"t":42.85,"f":1.33},{"t":42.95,"f":1.42},
{"t":43.05,"f":1.2},{"t":43.15,"f":1.56},{"t":43.25,"f":1.35},{"t":43.35,"f":1.6},{"t":43.45,"f":1.27},{"t":43.55,"f":1.44},{"t":43.65,"f":1.16},{"t":43.75,"f":1.5},{"t":43.85,"f":1.38},{"t":43.95,"f":1.3},
{"t":44.05,"f":1.49},{"t":44.15,"f":1.13},{"t":44.25,"f":1.36},{"t":44.35,"f":1.24},{"t":44.45,"f":1.53},{"t":44.55,"f":1.1},{"t":44.65,"f":1.33},{"t":44.75,"f":1.42},{"t":44.85,"f":1.19},{"t":44.95,"f":1.28},
{"t":45.05,"f":1.05},{"t":45.15,"f":1.41},{"t":45.25,"f":1.2},{"t":45.35,"f":1.45},{"t":45.45,"f":1.12},{"t":45.55,"f":1.3},{"t":45.65,"f":1.01},{"t":45.75,"f":1.36},{"t":45.85,"f":1.23},{"t":45.95,"f":1.15},
{"t":46.05,"f":1.31},{"t":46.15,"f":0.95},{"t":46.25,"f":1.18},{"t":46.35,"f":1.06},{"t":46.45,"f":1.35},{"t":46.55,"f":0.92},{"t":46.65,"f":1.15},{"t":46.75,"f":1.24},{"t":46.85,"f":1.01},{"t":46.95,"f":1.1},
{"t":47.05,"f":0.85},{"t":47.15,"f":1.21},{"t":47.25,"f":1.0},{"t":47.35,"f":1.25},{"t":47.45,"f":0.92},{"t":47.55,"f":1.1},{"t":47.65,"f":0.81},{"t":47.75,"f":1.16},{"t":47.85,"f":1.03},{"t":47.95,"f":0.95},
{"t":48.05,"f":1.1},{"t":48.15,"f":0.75},{"t":48.25,"f":0.98},{"t":48.35,"f":0.86},{"t":48.45,"f":1.14},{"t":48.55,"f":0.72},{"t":48.65,"f":0.95},{"t":48.75,"f":1.04},{"t":48.85,"f":0.81},{"t":48.95,"f":0.9},
{"t":49.05,"f":0.68},{"t":49.15,"f":1.02},{"t":49.25,"f":0.82},{"t":49.35,"f":1.05},{"t":49.45,"f":0.74},{"t":49.55,"f":0.92},{"t":49.65,"f":0.65},{"t":49.75,"f":0.97},{"t":49.85,"f":0.85},{"t":49.95,"f":0.77},
{"t":50.05,"f":0.92},{"t":50.15,"f":0.58},{"t":50.25,"f":0.8},{"t":50.35,"f":0.68},{"t":50.45,"f":0.95},{"t":50.55,"f":0.55},{"t":50.65,"f":0.76},{"t":50.75,"f":0.86},{"t":50.85,"f":0.63},{"t":50.95,"f":0.72},
{"t":41.2,"f":1.52},{"t":41.5,"f":1.35},{"t":41.8,"f":1.58},{"t":41.9,"f":1.46},{"t":42.2,"f":1.4},{"t":42.5,"f":1.55},{"t":42.8,"f":1.3},{"t":42.9,"f":1.48},{"t":43.2,"f":1.45},{"t":43.5,"f":1.25},{"t":43.8,"f":1.4},{"t":43.9,"f":1.33},{"t":44.2,"f":1.3},{"t":44.5,"f":1.18},{"t":44.8,"f":1.38},{"t":44.9,"f":1.22},{"t":45.2,"f":1.28},{"t":45.5,"f":1.1},{"t":45.8,"f":1.2},{"t":45.9,"f":1.32},{"t":46.2,"f":1.08},{"t":46.5,"f":1.2},{"t":46.8,"f":1.0},{"t":46.9,"f":1.12},{"t":47.2,"f":1.08},{"t":47.5,"f":0.9},{"t":47.8,"f":1.0},{"t":47.9,"f":0.88},{"t":48.2,"f":0.95},{"t":48.5,"f":0.8},{"t":48.8,"f":0.9},{"t":48.9,"f":0.7},{"t":49.2,"f":0.8},{"t":49.5,"f":0.9},{"t":49.8,"f":0.62},{"t":49.9,"f":0.75},{"t":50.2,"f":0.7},{"t":50.5,"f":0.82},{"t":50.8,"f":0.6},{"t":50.9,"f":0.66},
{"t":51.05,"f":0.7},{"t":51.15,"f":0.85},{"t":51.25,"f":0.62},{"t":51.35,"f":0.78},{"t":51.45,"f":0.66},{"t":51.5,"f":0.45},{"t":51.6,"f":0.4},{"t":51.7,"f":0.33},{"t":51.8,"f":0.16},{"t":49.95,"f":0.43},{"t":50.3,"f":0.55},{"t":50.6,"f":0.58},
{"t":47.5,"f":1.36},{"t":48.2,"f":1.3},{"t":46.8,"f":1.62},{"t":44.5,"f":1.7},{"t":42.8,"f":1.78},{"t":49.5,"f":1.2},{"t":50.8,"f":1.22},{"t":51.3,"f":1.24},{"t":45.5,"f":1.6},
{"t":6.5,"f":2.42},{"t":10.5,"f":2.38},{"t":12.3,"f":2.48},{"t":12.6,"f":2.45},{"t":13.2,"f":2.35},{"t":15.5,"f":2.4},{"t":16.8,"f":2.38},{"t":18.2,"f":2.43},{"t":19.6,"f":2.44},{"t":20.8,"f":2.36},{"t":22.5,"f":2.3},{"t":24.5,"f":2.26},{"t":25.8,"f":2.28},{"t":27.5,"f":2.2},{"t":29.5,"f":2.15},{"t":31.8,"f":2.14},{"t":34.4,"f":2.12},{"t":36.5,"f":2.12},{"t":38.5,"f":2.07},{"t":40.5,"f":1.98},
{"t":5.8,"f":1.58},{"t":6.2,"f":1.54},{"t":8.5,"f":1.56},{"t":14.8,"f":1.6},{"t":17.5,"f":1.52},{"t":19.2,"f":1.58},{"t":23.0,"f":1.52},{"t":25.5,"f":1.47},{"t":27.5,"f":1.42},{"t":30.0,"f":1.38},{"t":33.0,"f":1.28},{"t":35.5,"f":1.25},{"t":37.8,"f":1.22},{"t":39.5,"f":1.18},
{"t":56.3,"f":0},{"t":56.4,"f":0.29},{"t":56.5,"f":0.33},{"t":56.45,"f":0.44},{"t":56.6,"f":0.55},{"t":56.7,"f":0.62},{"t":56.8,"f":0.5},{"t":56.9,"f":0.7},{"t":57.0,"f":0.58},{"t":57.1,"f":0.75},{"t":57.2,"f":0.66},{"t":57.3,"f":0.82},{"t":57.4,"f":0.6},{"t":57.5,"f":0.72},{"t":57.6,"f":0.88},{"t":57.7,"f":0.68},{"t":57.8,"f":0.79},{"t":57.9,"f":0.95},{"t":58.0,"f":0.74},{"t":58.1,"f":0.85},{"t":58.2,"f":1.02},{"t":58.3,"f":0.7},{"t":58.4,"f":0.9},{"t":58.5,"f":0.8},{"t":58.6,"f":1.05},{"t":58.7,"f":0.86},{"t":58.8,"f":0.95},{"t":58.9,"f":0.76},{"t":59.0,"f":1.12},{"t":59.1,"f":0.9},{"t":59.2,"f":1.0},{"t":59.3,"f":1.42},{"t":59.4,"f":0.85},{"t":59.5,"f":1.08},{"t":59.6,"f":0.95},{"t":59.7,"f":1.15},{"t":59.8,"f":0.92},{"t":59.9,"f":1.02},{"t":59.3,"f":1.69},{"t":62.3,"f":1.75},{"t":58.9,"f":1.46},{"t":57.9,"f":1.26},{"t":57.0,"f":0.66},{"t":57.6,"f":0.62},{"t":58.3,"f":0.92},{"t":58.7,"f":1.1},{"t":59.4,"f":1.22},{"t":59.8,"f":0.82},
{"t":60.04,"f":0.8},{"t":60.12,"f":1.23},{"t":60.21,"f":0.99},{"t":60.29,"f":1.32},{"t":60.37,"f":0.9},{"t":60.46,"f":1.11},{"t":60.54,"f":1.26},{"t":60.62,"f":0.85},{"t":60.71,"f":1.16},{"t":60.79,"f":1.03},{"t":60.87,"f":1.19},{"t":60.96,"f":0.95},
{"t":61.04,"f":1.21},{"t":61.12,"f":0.87},{"t":61.21,"f":1.33},{"t":61.29,"f":1.05},{"t":61.37,"f":1.17},{"t":61.46,"f":0.82},{"t":61.54,"f":1.26},{"t":61.62,"f":0.97},{"t":61.71,"f":1.1},{"t":61.79,"f":1.29},{"t":61.87,"f":0.92},{"t":61.96,"f":1.14},
{"t":62.04,"f":1.01},{"t":62.12,"f":1.37},{"t":62.21,"f":0.94},{"t":62.29,"f":1.15},{"t":62.37,"f":0.84},{"t":62.46,"f":1.25},{"t":62.54,"f":1.07},{"t":62.62,"f":1.31},{"t":62.71,"f":0.89},{"t":62.79,"f":1.21},{"t":62.87,"f":1.12},{"t":62.96,"f":0.98},
{"t":63.04,"f":1.38},{"t":63.12,"f":1.07},{"t":63.21,"f":1.2},{"t":63.29,"f":0.9},{"t":63.37,"f":1.29},{"t":63.46,"f":0.99},{"t":63.54,"f":1.42},{"t":63.62,"f":1.14},{"t":63.71,"f":1.25},{"t":63.79,"f":0.96},{"t":63.87,"f":1.32},{"t":63.96,"f":1.1},
{"t":64.04,"f":1.01},{"t":64.12,"f":1.25},{"t":64.21,"f":1.4},{"t":64.29,"f":1.08},{"t":64.37,"f":0.94},{"t":64.46,"f":1.33},{"t":64.54,"f":1.2},{"t":64.62,"f":1.42},{"t":64.71,"f":1.05},{"t":64.79,"f":1.3},{"t":64.87,"f":1.12},{"t":64.96,"f":1.37},
{"t":65.04,"f":0.97},{"t":65.12,"f":1.4},{"t":65.21,"f":1.16},{"t":65.29,"f":1.49},{"t":65.37,"f":1.07},{"t":65.46,"f":1.28},{"t":65.54,"f":1.43},{"t":65.62,"f":1.02},{"t":65.71,"f":1.33},{"t":65.79,"f":1.2},{"t":65.87,"f":1.36},{"t":65.96,"f":1.12},
{"t":66.04,"f":1.38},{"t":66.12,"f":1.04},{"t":66.21,"f":1.5},{"t":66.29,"f":1.22},{"t":66.37,"f":1.34},{"t":66.46,"f":0.99},{"t":66.54,"f":1.43},{"t":66.62,"f":1.14},{"t":66.71,"f":1.27},{"t":66.79,"f":1.46},{"t":66.87,"f":1.09},{"t":66.96,"f":1.31},
{"t":67.04,"f":1.18},{"t":67.12,"f":1.54},{"t":67.21,"f":1.11},{"t":67.29,"f":1.32},{"t":67.37,"f":1.01},{"t":67.46,"f":1.42},{"t":67.54,"f":1.24},{"t":67.62,"f":1.48},{"t":67.71,"f":1.06},{"t":67.79,"f":1.38},{"t":67.87,"f":1.29},{"t":67.96,"f":1.15},
{"t":68.04,"f":1.54},{"t":68.12,"f":1.23},{"t":68.21,"f":1.36},{"t":68.29,"f":1.06},{"t":68.37,"f":1.45},{"t":68.46,"f":1.15},{"t":68.54,"f":1.58},{"t":68.62,"f":1.3},{"t":68.71,"f":1.41},{"t":68.79,"f":1.12},{"t":68.87,"f":1.48},{"t":68.96,"f":1.26},
{"t":69.04,"f":1.16},{"t":69.12,"f":1.4},{"t":69.21,"f":1.55},{"t":69.29,"f":1.23},{"t":69.37,"f":1.09},{"t":69.46,"f":1.48},{"t":69.54,"f":1.35},{"t":69.62,"f":1.57},{"t":69.71,"f":1.2},{"t":69.79,"f":1.45},{"t":69.87,"f":1.27},{"t":69.96,"f":1.52},
{"t":60.5,"f":1.4},{"t":60.2,"f":0.7},{"t":61.4,"f":1.45},{"t":61.7,"f":0.75},{"t":62.5,"f":1.5},{"t":62.8,"f":0.8},{"t":63.5,"f":1.55},{"t":63.2,"f":0.85},{"t":64.4,"f":1.6},{"t":64.7,"f":0.9},{"t":66.5,"f":1.65},{"t":66.2,"f":0.95},{"t":67.5,"f":1.7},{"t":67.8,"f":1.0},{"t":68.6,"f":1.93},{"t":68.0,"f":1.77},{"t":69.5,"f":1.65},{"t":69.2,"f":1.05},
{"t":65.1,"f":1.5},{"t":65.1,"f":1.6},{"t":65.12,"f":1.7},{"t":65.1,"f":1.78},{"t":65.08,"f":1.85},{"t":65.1,"f":1.92},{"t":65.12,"f":2.0},{"t":65.1,"f":2.08},{"t":65.1,"f":2.19},{"t":65.2,"f":0.69}]
},
"concat": [
{"width": 471, "height": 389,
"resolve": {"axis": {"x": "independent", "y": "independent"}},
"layer": [
{"data": {"name": "wt"}, "mark": {"type": "point", "filled": true, "color": "black", "size": 24, "opacity": 1, "strokeWidth": 0},
 "encoding": {
  "x": {"field": "t", "type": "quantitative", "scale": {"domain": [5, 61], "nice": false, "zero": false},
   "axis": {"orient": "bottom", "title": null, "values": [10,20,30,40,50,60], "format": "d", "labelOverlap": false, "tickSize": 0, "domainColor": "#808080", "domainWidth": 1.5, "labelFontSize": 12, "labelColor": "#222", "labelPadding": 8}},
  "y": {"field": "f", "type": "quantitative", "scale": {"domain": [0, 3.539], "nice": false, "zero": false},
   "axis": {"orient": "left", "title": "Inst. Freq. (Hz)", "values": [0,0.5,1,1.5,2,2.5,3,3.5], "format": ".1f", "labelOverlap": false, "tickSize": 4, "domainColor": "black", "tickColor": "black", "labelFontSize": 12, "labelColor": "#222", "labelPadding": 3, "titleFontSize": 13, "titleFontWeight": "normal", "titleColor": "#222", "titlePadding": 18}}}},
{"data": {"name": "segA"}, "transform": [{"filter": "datum.conc !== '0.3'"}], "mark": {"type": "rule", "color": "#8f8f8f", "strokeWidth": 1},
 "encoding": {"x": {"field": "t0", "type": "quantitative", "axis": {"orient": "bottom", "title": null, "values": [15,25,35,45,55], "labels": false, "domain": false, "tickSize": 3, "tickColor": "#808080"}},
  "y": {"datum": 0, "axis": {"orient": "left", "title": null, "values": [0.1,0.2,0.3,0.4,0.6,0.7,0.8,0.9,1.1,1.2,1.3,1.4,1.6,1.7,1.8,1.9,2.1,2.2,2.3,2.4,2.6,2.7,2.8,2.9,3.1,3.2,3.3,3.4], "labels": false, "domain": false, "tickSize": 2, "tickColor": "black"}}, "y2": {"datum": 2.5}}},
{"data": {"name": "segA"}, "transform": [{"filter": "datum.conc === '0.3'"}], "mark": {"type": "rule", "color": "#c6c6c6", "strokeWidth": 2}, "encoding": {"x": {"field": "t0", "type": "quantitative", "axis": null}, "y": {"datum": 0, "axis": null}, "y2": {"datum": 2.5}}},
{"data": {"name": "segA"}, "transform": [{"filter": "datum.conc === '10'"}], "mark": {"type": "rule", "color": "#c6c6c6", "strokeWidth": 2}, "encoding": {"x": {"field": "t1", "type": "quantitative", "axis": null}, "y": {"datum": 0, "axis": null}, "y2": {"datum": 2.5}}},
{"data": {"name": "segA"}, "mark": {"type": "rule", "color": "#a8a8a8", "strokeWidth": 2}, "encoding": {"x": {"field": "t0", "type": "quantitative", "axis": null}, "x2": {"field": "t1"}, "y": {"datum": 2.5, "axis": null}}},
{"data": {"name": "segA"}, "mark": {"type": "text", "fontSize": 13, "color": "#222", "baseline": "middle"}, "encoding": {"x": {"field": "mid", "type": "quantitative", "axis": null}, "y": {"datum": 2.65, "axis": null}, "text": {"field": "conc"}}},
{"data": {"values": [{}]}, "mark": {"type": "text", "fontSize": 12.5, "color": "#222", "baseline": "middle"}, "encoding": {"x": {"datum": 33.2, "axis": null}, "y": {"datum": 2.9, "axis": null}, "text": {"value": "R8HD [nM]"}}},
{"data": {"values": [{}]}, "mark": {"type": "text", "fontSize": 18, "fontWeight": "bold", "baseline": "middle"}, "encoding": {"x": {"datum": 31.1, "axis": null}, "y": {"datum": 3.39, "axis": null}, "text": {"value": "Tph2 WT"}}},
{"data": {"values": [{}]}, "mark": {"type": "text", "fontSize": 25, "baseline": "middle"}, "encoding": {"x": {"datum": 10.4, "axis": null}, "y": {"datum": 3.65, "axis": null}, "text": {"value": "A"}}}
]},
{"width": 390, "height": 390,
"resolve": {"axis": {"x": "independent", "y": "independent"}},
"layer": [
{"data": {"name": "conc"}, "mark": {"type": "point", "shape": "circle", "filled": true, "stroke": "black", "size": 34, "opacity": 1},
 "encoding": {
  "x": {"field": "x", "type": "quantitative", "scale": {"domain": [-10.6, -7], "nice": false, "zero": false},
   "axis": {"orient": "bottom", "title": "Log [R8HD]", "values": [-10,-9,-8,-7], "labelExpr": "toString(datum.value)", "labelOverlap": false, "labelFlush": true, "tickSize": 6, "domainColor": "black", "domainWidth": 1.2, "tickColor": "black", "labelFontSize": 17, "labelColor": "black", "labelPadding": 4, "titleFontSize": 18, "titleFontWeight": "normal", "titleColor": "black", "titlePadding": 4}},
  "y": {"field": "y", "type": "quantitative", "scale": {"domain": [0, 1.05], "nice": false, "zero": false},
   "axis": {"orient": "left", "title": "Normalised Firing Rate", "values": [0,0.5,1], "format": ".1f", "labelOverlap": false, "tickSize": 6, "domainColor": "black", "domainWidth": 1.2, "tickColor": "black", "labelFontSize": 17, "labelColor": "black", "labelPadding": 3, "titleFontSize": 18, "titleFontWeight": "normal", "titleColor": "black", "titlePadding": 6}},
  "fill": {"field": "g", "type": "nominal", "scale": {"domain": ["WT", "KO"], "range": ["white", "black"]},
   "legend": {"orient": "none", "legendX": 642, "legendY": 311, "title": null, "symbolType": "M-2,0L-0.5,0M0.5,0L2,0M0.5,0A0.5,0.5,0,1,1,-0.5,0A0.5,0.5,0,1,1,0.5,0Z", "symbolSize": 144, "symbolStrokeColor": "black", "labelFont": "Liberation Sans", "labelFontSize": 18, "labelColor": "black", "labelOffset": 19, "rowPadding": 6}},
  "strokeWidth": {"field": "g", "type": "nominal", "scale": {"domain": ["WT", "KO"], "range": [1, 2]},
   "legend": {"orient": "none", "legendX": 642, "legendY": 311, "title": null, "symbolType": "M-2,0L-0.5,0M0.5,0L2,0M0.5,0A0.5,0.5,0,1,1,-0.5,0A0.5,0.5,0,1,1,0.5,0Z", "symbolSize": 144, "symbolStrokeColor": "black", "labelFont": "Liberation Sans", "labelFontSize": 18, "labelColor": "black", "labelOffset": 19, "rowPadding": 6}}}},
{"data": {"name": "fit"}, "transform": [{"filter": "datum.g === 'WT'"}], "mark": {"type": "line", "color": "black", "strokeWidth": 1, "interpolate": "monotone"},
 "encoding": {"x": {"field": "x", "type": "quantitative", "axis": {"orient": "bottom", "title": null, "values": [-10.523,-10.398,-10.301,-10.222,-10.155,-10.097,-10.046,-9.699,-9.523,-9.398,-9.301,-9.222,-9.155,-9.097,-9.046,-8.699,-8.523,-8.398,-8.301,-8.222,-8.155,-8.097,-8.046,-7.699,-7.523,-7.398,-7.301,-7.222,-7.155,-7.097,-7.046], "labels": false, "domain": false, "tickSize": 3.5, "tickColor": "black"}},
  "y": {"field": "y", "type": "quantitative", "axis": {"orient": "left", "title": null, "values": [0.1,0.2,0.3,0.4,0.6,0.7,0.8,0.9], "labels": false, "domain": false, "tickSize": 3, "tickColor": "black"}}}},
{"data": {"name": "fit"}, "transform": [{"filter": "datum.g === 'KO'"}], "mark": {"type": "line", "color": "black", "strokeWidth": 2.2, "interpolate": "monotone"}, "encoding": {"x": {"field": "x", "type": "quantitative", "axis": null}, "y": {"field": "y", "type": "quantitative", "axis": null}}},
{"data": {"values": [{}]}, "mark": {"type": "text", "fontSize": 25, "baseline": "middle"}, "encoding": {"x": {"datum": -10.29, "axis": null}, "y": {"datum": 1.08, "axis": null}, "text": {"value": "C"}}}
]},
{"width": 471, "height": 382,
"resolve": {"axis": {"x": "independent", "y": "independent"}},
"layer": [
{"data": {"name": "ko"}, "mark": {"type": "point", "filled": true, "color": "black", "size": 24, "opacity": 1, "strokeWidth": 0},
 "encoding": {
  "x": {"field": "t", "type": "quantitative", "scale": {"domain": [0, 70], "nice": false, "zero": false},
   "axis": {"orient": "bottom", "title": "Time (min)", "values": [0,10,20,30,40,50,60,70], "format": "d", "labelOverlap": false, "tickSize": 0, "domainColor": "#808080", "domainWidth": 2, "labelFontSize": 12, "labelColor": "#222", "labelPadding": 8, "titleFontSize": 13, "titleFontWeight": "normal", "titleColor": "#222", "titlePadding": 4}},
  "y": {"field": "f", "type": "quantitative", "scale": {"domain": [0, 3], "nice": false, "zero": false},
   "axis": {"orient": "left", "title": "Inst. Freq. (Hz)", "values": [0,1,2,3], "format": "d", "labelOverlap": false, "tickSize": 4, "domainColor": "black", "tickColor": "black", "labelFontSize": 12, "labelColor": "#222", "labelPadding": 3, "titleFontSize": 13, "titleFontWeight": "normal", "titleColor": "#222", "titlePadding": 18}}}},
{"data": {"name": "segB"}, "mark": {"type": "rule", "color": "#8f8f8f", "strokeWidth": 1},
 "encoding": {"x": {"field": "t0", "type": "quantitative", "axis": {"orient": "bottom", "title": null, "values": [5,15,25,35,45,55,65], "labels": false, "domain": false, "tickSize": 3, "tickColor": "#808080"}},
  "y": {"datum": 0, "axis": {"orient": "left", "title": null, "values": [0.2,0.4,0.6,0.8,1.2,1.4,1.6,1.8,2.2,2.4,2.6,2.8], "labels": false, "domain": false, "tickSize": 2, "tickColor": "black"}}, "y2": {"datum": 2.6}}},
{"data": {"name": "segB"}, "transform": [{"filter": "datum.conc === '10'"}], "mark": {"type": "rule", "color": "#c6c6c6", "strokeWidth": 2}, "encoding": {"x": {"field": "t1", "type": "quantitative", "axis": null}, "y": {"datum": 0, "axis": null}, "y2": {"datum": 2.6}}},
{"data": {"name": "segB"}, "mark": {"type": "rule", "color": "#a8a8a8", "strokeWidth": 2}, "encoding": {"x": {"field": "t0", "type": "quantitative", "axis": null}, "x2": {"field": "t1"}, "y": {"datum": 2.6, "axis": null}}},
{"data": {"name": "segB"}, "mark": {"type": "text", "fontSize": 13, "color": "#222", "baseline": "middle"}, "encoding": {"x": {"field": "mid", "type": "quantitative", "axis": null}, "y": {"datum": 2.7, "axis": null}, "text": {"field": "conc"}}},
{"data": {"values": [{}]}, "mark": {"type": "text", "fontSize": 12.5, "color": "#222", "baseline": "middle"}, "encoding": {"x": {"datum": 32.3, "axis": null}, "y": {"datum": 2.895, "axis": null}, "text": {"value": "R8HD [nM]"}}},
{"data": {"values": [{}]}, "mark": {"type": "text", "fontSize": 18, "fontWeight": "bold", "baseline": "middle"}, "encoding": {"x": {"datum": 32.6, "axis": null}, "y": {"datum": 3.24, "axis": null}, "text": {"value": "Tph2 KO"}}},
{"data": {"values": [{}]}, "mark": {"type": "text", "fontSize": 25, "baseline": "middle"}, "encoding": {"x": {"datum": 6.7, "axis": null}, "y": {"datum": 3.04, "axis": null}, "text": {"value": "B"}}}
]},
{"width": 390, "height": 273,
"encoding": {"x": {"datum": 0, "type": "quantitative", "scale": {"domain": [0, 1]}, "axis": null}, "y": {"field": "line", "type": "quantitative", "scale": {"domain": [0, 10.5], "reverse": true, "nice": false, "zero": false}, "axis": null}, "text": {"field": "text"}},
"layer": [
{"data": {"values": [{"line": 2, "text": "the firing rate of DRN serotonergic neurons in"}, {"line": 3, "text": "response to R8HD. Typical time courses of the"}, {"line": 4, "text": "changes in firing rate of serotonergic neurons"}, {"line": 6, "text": "cases neuron firing started to recover about"}, {"line": 8, "text": "response curves of normalised firing rate from"}, {"line": 10, "text": "curve of KO mice to the left."}]}, "mark": {"type": "text", "font": "Liberation Serif", "fontSize": 26, "align": "left", "baseline": "middle", "dx": -31.7, "limit": 423, "ellipsis": "\u200b", "color": "black"}},
{"data": {"values": [{"line": 1, "text": "Fig. 3.6."}, {"line": 9, "text": "A"}]}, "mark": {"type": "text", "font": "Liberation Serif", "fontSize": 26, "fontWeight": "bold", "align": "left", "baseline": "middle", "dx": -31.7, "color": "black"}},
{"data": {"values": [{"line": 1, "text": "Concentration-dependent decrease in"}]}, "mark": {"type": "text", "font": "Liberation Serif", "fontSize": 26, "align": "left", "baseline": "middle", "dx": 62.9, "limit": 328.4, "ellipsis": "\u200b", "color": "black"}},
{"data": {"values": [{"line": 5, "text": "from Tph2 WT ("}, {"line": 7, "text": "15 min after washout of R8HD. ("}]}, "mark": {"type": "text", "font": "Liberation Serif", "fontSize": 26, "align": "left", "baseline": "middle", "dx": -31.7, "color": "black"}},
{"data": {"values": [{"line": 5, "text": "A"}]}, "mark": {"type": "text", "font": "Liberation Serif", "fontSize": 26, "fontWeight": "bold", "align": "left", "baseline": "middle", "dx": 142.3, "color": "black"}},
{"data": {"values": [{"line": 5, "text": ") and KO mice ("}]}, "mark": {"type": "text", "font": "Liberation Serif", "fontSize": 26, "align": "left", "baseline": "middle", "dx": 161.1, "color": "black"}},
{"data": {"values": [{"line": 5, "text": "B"}]}, "mark": {"type": "text", "font": "Liberation Serif", "fontSize": 26, "fontWeight": "bold", "align": "left", "baseline": "middle", "dx": 330.0, "color": "black"}},
{"data": {"values": [{"line": 5, "text": "). In both"}]}, "mark": {"type": "text", "font": "Liberation Serif", "fontSize": 26, "align": "left", "baseline": "middle", "dx": 347.4, "limit": 43.9, "ellipsis": "\u200b", "color": "black"}},
{"data": {"values": [{"line": 7, "text": "C"}]}, "mark": {"type": "text", "font": "Liberation Serif", "fontSize": 26, "fontWeight": "bold", "align": "left", "baseline": "middle", "dx": 312.7, "color": "black"}},
{"data": {"values": [{"line": 7, "text": ") Concentration-"}]}, "mark": {"type": "text", "font": "Liberation Serif", "fontSize": 26, "align": "left", "baseline": "middle", "dx": 331.5, "limit": 59.8, "ellipsis": "\u200b", "color": "black"}},
{"data": {"values": [{"line": 9, "text": "and"}]}, "mark": {"type": "text", "font": "Liberation Serif", "fontSize": 26, "align": "left", "baseline": "middle", "dx": -6.4, "color": "black"}},
{"data": {"values": [{"line": 9, "text": "B"}]}, "mark": {"type": "text", "font": "Liberation Serif", "fontSize": 26, "fontWeight": "bold", "align": "left", "baseline": "middle", "dx": 37.6, "color": "black"}},
{"data": {"values": [{"line": 9, "text": ", showing a moderate shift of the"}]}, "mark": {"type": "text", "font": "Liberation Serif", "fontSize": 26, "align": "left", "baseline": "middle", "dx": 55.0, "limit": 336.3, "ellipsis": "\u200b", "color": "black"}}
]}
],
"columns": 2,
"spacing": {"row": 108, "column": 115},
"bounds": "flush"
}
